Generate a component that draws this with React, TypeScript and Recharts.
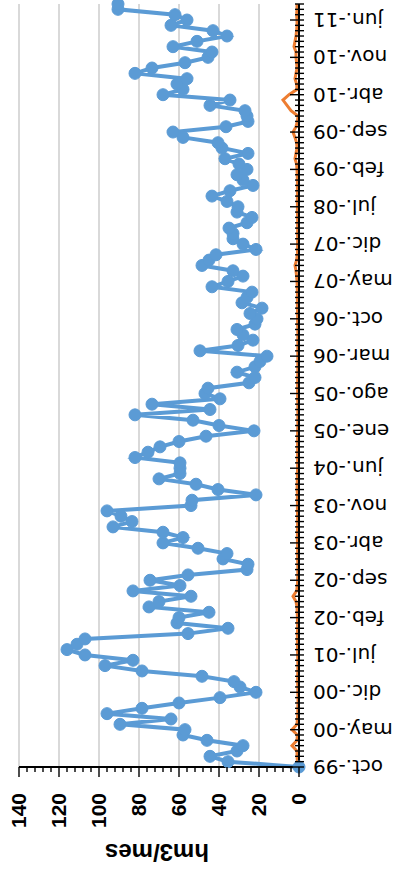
import { LineChart, Line, XAxis, YAxis, ReferenceLine, Label } from 'recharts'

// meses oct-99 .. sep-11
const monthNames = ['ene', 'feb', 'mar', 'abr', 'may', 'jun', 'jul', 'ago', 'sep', 'oct', 'nov', 'dic']
const firstMonth = 9
const firstYear = 1999

const caudal = [
  0, 35.5, 44.5, 31, 28, 46, 58, 57, 89.5, 64, 96, 78.5, 60, 39.5, 21.5, 29.5, 32.5, 48.5, 78.5, 97,
  83, 107, 116, 111, 107, 55.5, 35.5, 61, 60, 45, 75, 70, 54, 83, 59.5, 74.5, 55.5, 26, 25.5, 38,
  36, 50.5, 68, 58, 68, 93, 83.5, 89, 96, 54, 53.5, 21.5, 40.5, 51.5, 70, 59.5, 59.5, 59.5, 82, 75.5,
  69.5, 60, 46.5, 22.5, 40, 53, 82, 44.5, 73.5, 39.5, 47, 45.5, 25, 22, 31, 22, 19.5, 16, 49.5, 30.5,
  23, 28, 31, 22, 21, 24.5, 18.5, 28.5, 26, 23.5, 43.5, 35.5, 28, 33, 48.5, 45, 41.5, 21.5, 28, 33,
  33, 35, 26, 23.5, 31, 30.5, 36, 43.5, 34.5, 23, 28, 31, 26, 30, 37, 25.5, 38.5, 40.5, 58, 63,
  36.5, 25.5, 26, 27, 44.5, 34.5, 68, 58, 61, 56, 82, 73.5, 57, 45.5, 43.5, 63, 51, 36, 43, 64,
  56, 62, 90.5, 90.5,
]

const vertido = [
  0.5, 0.8, 1, 1, 3.5, 1, 0.8, 3.5, 1, 0.8, 0.6, 0.6, 0.5, 0.5, 0.6, 0.6, 0.7, 0.7, 0.6, 0.6,
  0.6, 0.7, 0.7, 0.8, 0.8, 0.8, 0.7, 0.7, 0.8, 0.9, 1, 1.5, 3, 1.2, 0.8, 0.7, 0.6, 0.6, 0.6, 0.7,
  0.7, 0.7, 0.8, 0.8, 0.8, 0.7, 0.7, 0.7, 0.8, 0.8, 0.8, 0.8, 0.9, 0.9, 0.8, 0.8, 0.7, 0.7, 0.7, 0.7,
  0.7, 0.7, 0.7, 0.7, 0.6, 0.6, 0.6, 0.6, 0.6, 0.7, 0.7, 0.7, 0.7, 0.7, 0.6, 0.6, 0.6, 0.6, 0.6, 0.6,
  0.6, 0.6, 0.6, 0.7, 0.7, 0.7, 0.8, 0.8, 0.8, 0.8, 0.9, 1, 1.2, 1.5, 2, 1.2, 0.8, 0.7, 0.7, 0.7,
  0.7, 0.7, 0.7, 0.7, 0.8, 0.8, 0.8, 0.8, 0.8, 0.8, 0.8, 0.9, 1, 1.2, 2, 1.5, 1, 1.2, 2, 3,
  1.5, 0.8, 0.5, 4, 6, 8, 5, 1, 1.2, 2, 1.5, 1, 1.2, 1.5, 1.5, 2.5, 2, 1.5, 1.2, 1,
  1, 1.2, 1, 1,
]

const valueTicks = Array.from({ length: 36 }, (_, i) => i * 4)
const gridValues = [20, 40, 60, 80, 100, 120, 140]

const data = caudal.map((v, i) => {
  const m = (firstMonth + i) % 12
  const y = firstYear + Math.floor((firstMonth + i) / 12)
  return {
    mes: `${monthNames[m]}.-${String(y).slice(2)}`,
    caudal: v,
    vertido: vertido[i],
  }
})

const DateTick = (props: any) => {
  const { x, y, payload } = props
  const i = payload.index
  const major = i % 7 === 0
  const ty = y + 14
  return (
    <g>
      <line x1={x} x2={x} y1={major ? y - 9 : y - 4} y2={y + 5} stroke="#000" strokeWidth={1.4} />
      {major && (
        <text
          x={x}
          y={ty}
          dy="0.35em"
          transform={`rotate(-90 ${x} ${ty})`}
          textAnchor="end"
          fontSize={20}
          fontFamily="DejaVu Sans"
          fill="#000"
        >
          {payload.value}
        </text>
      )}
    </g>
  )
}

const ValueTick = (props: any) => {
  const { x, y, payload } = props
  const major = payload.value % 20 === 0
  return (
    <g>
      <line x1={x} x2={x - (major ? 10 : 5)} y1={y} y2={y} stroke="#000" strokeWidth={1.4} />
      {major && (
        <text
          x={x - 26}
          y={y}
          dy="0.35em"
          textAnchor="end"
          fontSize={21}
          fontWeight="bold"
          fontFamily="Liberation Sans"
          fill="#000"
        >
          {payload.value}
        </text>
      )}
    </g>
  )
}

const AxisTitle = (props: any) => {
  const vb = props.viewBox
  const x = vb.x + 15
  const y = vb.y + vb.height / 2 - 2
  return (
    <text
      x={x}
      y={y}
      dy="0.35em"
      transform={`rotate(-90 ${x} ${y})`}
      textAnchor="middle"
      fontSize={24}
      fontWeight="bold"
      fontFamily="Liberation Sans"
      fill="#000"
    >
      hm3/mes
    </text>
  )
}

export default function App() {
  return (
    <div
      style={{
        position: 'absolute',
        left: 0,
        top: 0,
        width: 395,
        height: 879,
        overflow: 'hidden',
        background: '#fff',
      }}
    >
      <div
        style={{
          width: 879,
          height: 395,
          transform: 'translateY(879px) rotate(-90deg)',
          transformOrigin: '0 0',
        }}
      >
        <LineChart width={879} height={395} data={data} margin={{ top: 19, right: 4, bottom: 0, left: 12 }}>
          {gridValues.map((g) => (
            <ReferenceLine key={g} y={g} stroke="#d9d9d9" strokeWidth={2} />
          ))}
          <XAxis
            dataKey="mes"
            interval={0}
            height={96}
            tickSize={0}
            tickMargin={0}
            tickLine={false}
            tick={<DateTick />}
            axisLine={{ stroke: '#000', strokeWidth: 2 }}
          />
          <YAxis
            domain={[0, 140]}
            ticks={valueTicks}
            interval={0}
            width={100}
            tickSize={0}
            tickMargin={0}
            tickLine={false}
            tick={<ValueTick />}
            axisLine={{ stroke: '#000', strokeWidth: 2 }}
          >
            <Label content={<AxisTitle />} />
          </YAxis>
          <Line
            type="linear"
            dataKey="caudal"
            stroke="#5b9bd5"
            strokeWidth={4}
            dot={{ r: 6, fill: '#5b9bd5', stroke: '#5b9bd5', strokeWidth: 1 }}
            isAnimationActive={false}
          />
          <Line
            type="linear"
            dataKey="vertido"
            stroke="#ed7d31"
            strokeWidth={3}
            dot={false}
            isAnimationActive={false}
          />
        </LineChart>
      </div>
    </div>
  )
}
